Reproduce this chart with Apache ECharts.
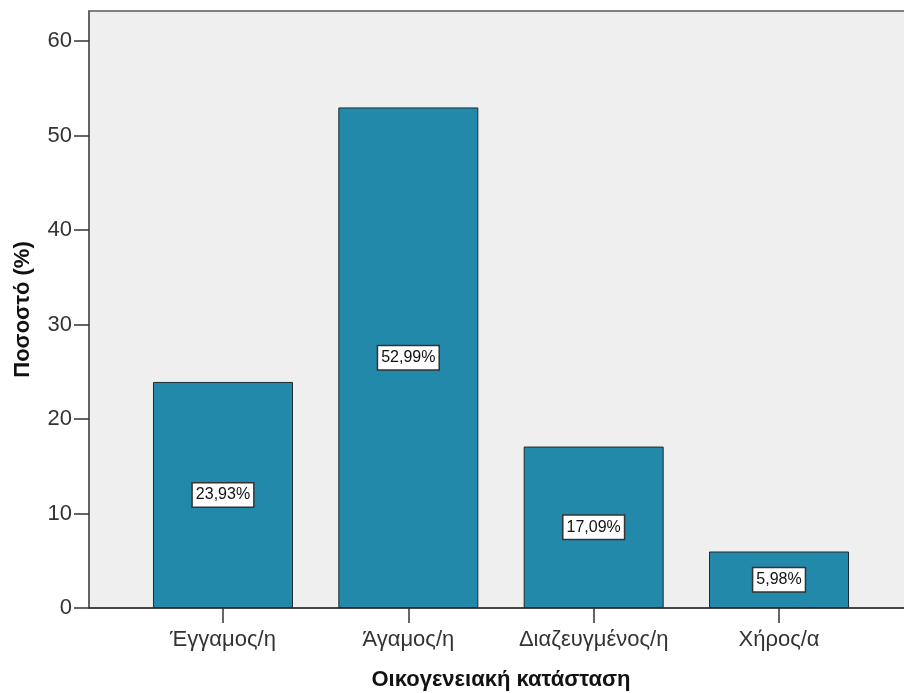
<!DOCTYPE html>
<html>
<head>
<meta charset="utf-8">
<script src="https://cdn.jsdelivr.net/npm/echarts@6/dist/echarts.min.js"></script>
<style>
html,body{margin:0;padding:0;background:#fff;}
#chart{width:904px;height:693px;}
</style>
</head>
<body>
<div id="chart"></div>
<script>
var categories = ['Έγγαμος/η', 'Άγαμος/η', 'Διαζευγμένος/η', 'Χήρος/α'];
var percentValues = [23.93, 52.99, 17.09, 5.98];
var yTicks = [0, 10, 20, 30, 40, 50, 60];
var xTitle = 'Οικογενειακή κατάσταση';
var yTitle = 'Ποσοστό (%)';

var FONT = 'Liberation Sans, Arial, sans-serif';
var Y_MAX = 63.2;
var chart = echarts.init(document.getElementById('chart'));
chart.setOption({
  animation: false,
  grid: [
    {left: 89, top: 11, right: -3, bottom: 85, outerBoundsMode: 'none', containLabel: false, show: true, backgroundColor: '#EFEFEF', borderColor: '#5a5a5a', borderWidth: 1.5},
    {left: 130.3, top: 11, right: 32.3, bottom: 85, outerBoundsMode: 'none', containLabel: false}
  ],
  xAxis: [
    {gridIndex: 0, type: 'value', min: 0, max: 1, show: true,
     axisLine: {show: true, lineStyle: {color: '#333', width: 1.5}}, axisTick: {show: false}, axisLabel: {show: false}, splitLine: {show: false}},
    {gridIndex: 1, type: 'category', data: categories,
     axisLine: {show: false},
     axisTick: {show: true, alignWithLabel: true, length: 15, lineStyle: {color: '#333', width: 1.5}},
     axisLabel: {fontFamily: FONT, fontSize: 22, color: '#333', margin: 21, interval: 0, hideOverlap: false},
     name: xTitle, nameLocation: 'middle', nameGap: 61,
     nameTextStyle: {fontFamily: FONT, fontSize: 22, fontWeight: 'bold', color: '#111'}}
  ],
  yAxis: [
    {gridIndex: 0, type: 'value', min: 0, max: Y_MAX,
     axisLine: {show: true, lineStyle: {color: '#5a5a5a', width: 1.5}},
     axisTick: {show: true, length: 15, customValues: yTicks, lineStyle: {color: '#333', width: 1.5}},
     axisLabel: {fontFamily: FONT, fontSize: 22, color: '#333', margin: 17, customValues: yTicks},
     splitLine: {show: false},
     name: yTitle, nameLocation: 'middle', nameGap: 55, nameRotate: 90,
     nameTextStyle: {fontFamily: FONT, fontSize: 22, fontWeight: 'bold', color: '#111'}},
    {gridIndex: 1, type: 'value', min: 0, max: Y_MAX, show: false, splitLine: {show: false}}
  ],
  series: [{
    type: 'bar',
    xAxisIndex: 1, yAxisIndex: 1,
    data: percentValues,
    barWidth: 140,
    itemStyle: {color: '#2389AA', borderColor: '#1b2b33', borderWidth: 1},
    label: {
      show: true, position: 'inside',
      formatter: function (p) { return p.value.toFixed(2).replace('.', ',') + '%'; },
      fontFamily: FONT, fontSize: 16, color: '#111',
      backgroundColor: '#fff', borderColor: '#333', borderWidth: 1.5,
      padding: [4, 3, 3, 3]
    }
  }]
});
</script>
</body>
</html>
